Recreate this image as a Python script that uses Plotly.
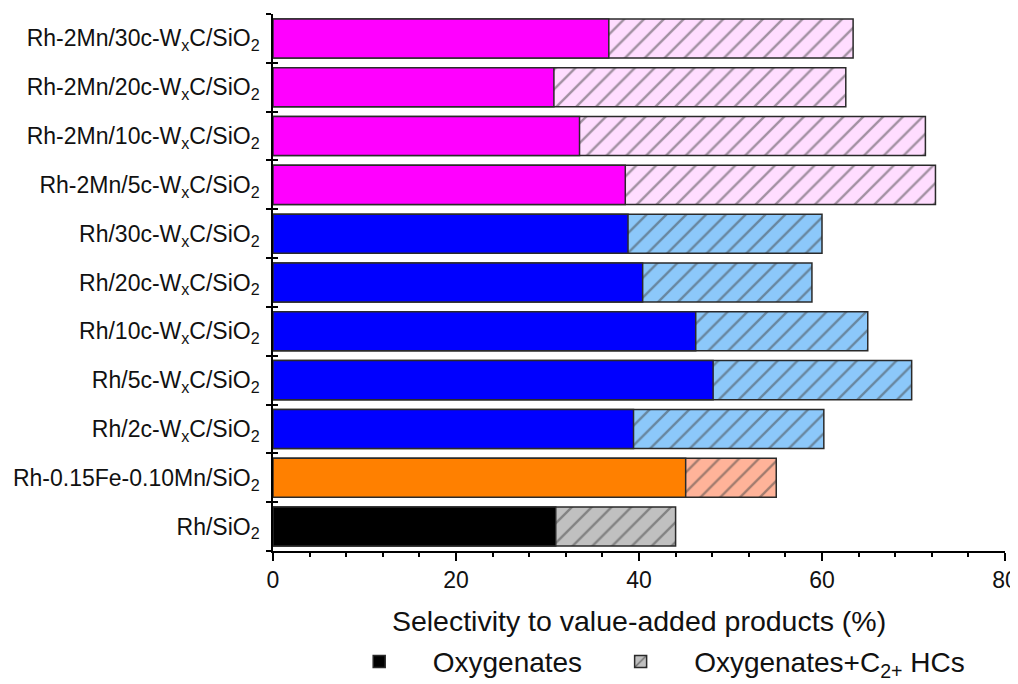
import plotly.graph_objects as go

categories = [
    "Rh/SiO<sub>2</sub>",
    "Rh-0.15Fe-0.10Mn/SiO<sub>2</sub>",
    "Rh/2c-W<sub>x</sub>C/SiO<sub>2</sub>",
    "Rh/5c-W<sub>x</sub>C/SiO<sub>2</sub>",
    "Rh/10c-W<sub>x</sub>C/SiO<sub>2</sub>",
    "Rh/20c-W<sub>x</sub>C/SiO<sub>2</sub>",
    "Rh/30c-W<sub>x</sub>C/SiO<sub>2</sub>",
    "Rh-2Mn/5c-W<sub>x</sub>C/SiO<sub>2</sub>",
    "Rh-2Mn/10c-W<sub>x</sub>C/SiO<sub>2</sub>",
    "Rh-2Mn/20c-W<sub>x</sub>C/SiO<sub>2</sub>",
    "Rh-2Mn/30c-W<sub>x</sub>C/SiO<sub>2</sub>",
]
oxygenates = [30.9, 45.1, 39.4, 48.1, 46.2, 40.4, 38.8, 38.5, 33.5, 30.7, 36.7]
oxy_plus_c2 = [44.0, 55.0, 60.2, 69.8, 65.0, 58.9, 60.0, 72.4, 71.3, 62.6, 63.4]

solid_colors = ["#000000", "#FF8000"] + ["#0000FF"] * 5 + ["#FF00FF"] * 4
light_colors = ["#C0C0C0", "#FFB399"] + ["#8CC8FA"] * 5 + ["#FFDDFF"] * 4

font_family = "Arial, Liberation Sans, sans-serif"

fig = go.Figure()
fig.add_trace(go.Bar(
    y=categories, x=oxy_plus_c2, orientation="h",
    name="Oxygenates+C<sub>2+</sub> HCs",
    marker=dict(color=light_colors,
                line=dict(color="#2a2a2a", width=1.5),
                pattern=dict(shape="/", fgcolor="#111111", bgcolor=light_colors,
                             size=14, solidity=0.17)),
    width=0.8, legendrank=2,
))
fig.add_trace(go.Bar(
    y=categories, x=oxygenates, orientation="h",
    name="Oxygenates",
    marker=dict(color=solid_colors, line=dict(color="#2a2a2a", width=1.5)),
    width=0.8, legendrank=1,
))
# invisible helper trace so the overlay axis draws inward boundary ticks
fig.add_trace(go.Bar(
    y=categories, x=[0] * len(categories), orientation="h", yaxis="y2",
    showlegend=False, hoverinfo="skip", opacity=0,
))

fig.update_layout(
    width=1010, height=676,
    barmode="overlay",
    paper_bgcolor="white", plot_bgcolor="white",
    margin=dict(l=265, r=13, t=6, b=133),
    font=dict(family=font_family, size=23, color="#111111"),
    xaxis=dict(
        range=[0, 80], dtick=20, tick0=0, automargin=False,
        ticklabeloverflow="allow",
        showline=True, linecolor="black", linewidth=1.5,
        ticks="outside", ticklen=8, tickwidth=1.5, tickcolor="black",
        minor=dict(dtick=4, ticks="outside", ticklen=4, tickwidth=1.5, tickcolor="black"),
        showgrid=False, zeroline=False,
        tickfont=dict(size=23),
        title=dict(text="Selectivity to value-added products (%)", font=dict(size=28.5), standoff=20),
    ),
    yaxis=dict(
        type="category", categoryorder="array", categoryarray=categories,
        range=[-0.5, len(categories) - 0.5], automargin=False,
        showline=True, linecolor="black", linewidth=1.5,
        ticks="outside", tickson="boundaries", ticklen=5, tickwidth=1.5, tickcolor="black",
        ticklabelstandoff=7,
        showgrid=False, zeroline=False,
        tickfont=dict(size=23),
    ),
    yaxis2=dict(
        type="category", categoryorder="array", categoryarray=categories,
        overlaying="y", matches="y", side="left", automargin=False,
        showline=False, showticklabels=False, showgrid=False, zeroline=False,
        ticks="inside", tickson="boundaries", ticklen=5, tickwidth=1.5, tickcolor="black",
    ),
    legend=dict(
        orientation="h", x=0.072, xanchor="left",
        yref="container", y=0.033, yanchor="middle",
        font=dict(size=28), itemwidth=97,
        bgcolor="rgba(0,0,0,0)", traceorder="normal",
    ),
    bargap=0.2,
)

fig.write_html("out.html")
